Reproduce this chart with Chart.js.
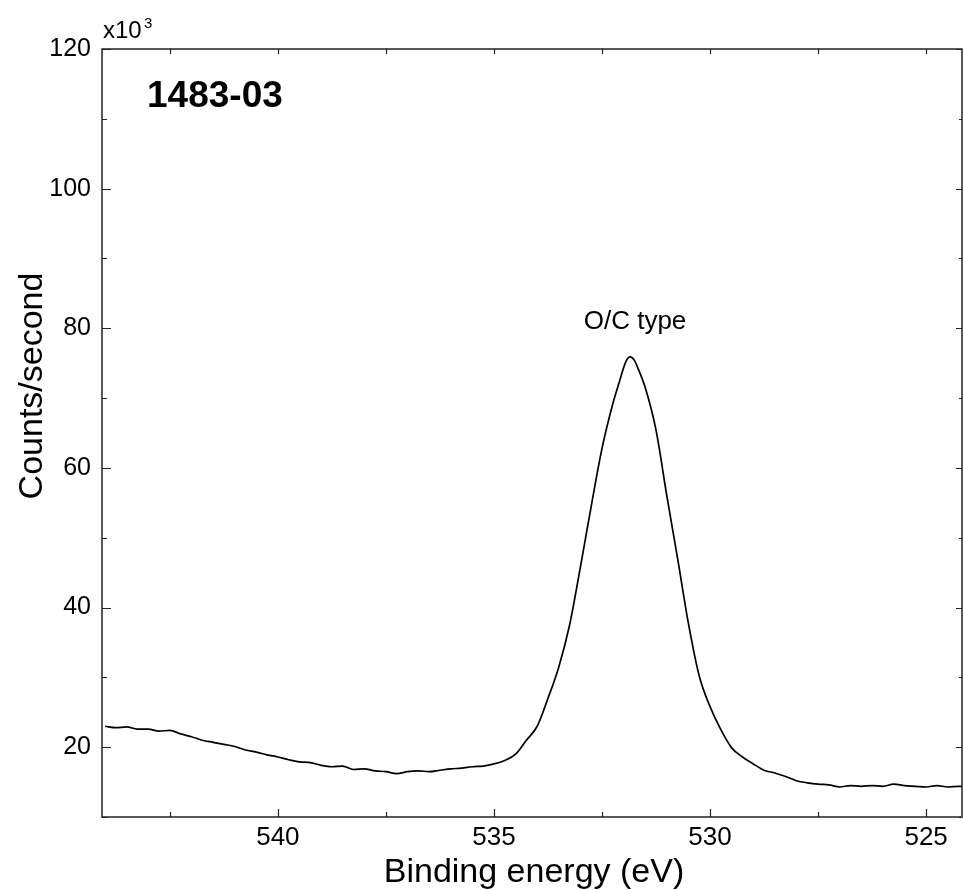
<!DOCTYPE html>
<html>
<head>
<meta charset="utf-8">
<title>1483-03 O 1s</title>
<script src="https://cdn.jsdelivr.net/npm/chart.js@4.4.1/dist/chart.umd.min.js"></script>
<style>
  body { margin: 0; background: #fff; }
  #wrap { width: 963px; height: 890px; }
</style>
</head>
<body>
<div id="wrap"><canvas id="xpsChart"></canvas></div>
<script>
// Binding energy (eV), high to low
const bindingEnergy = [
  544.0, 543.75, 543.5, 543.25, 543.0, 542.75, 542.5, 542.25, 542.0, 541.75,
  541.5, 541.25, 541.0, 540.75, 540.5, 540.25, 540.0, 539.75, 539.5, 539.25,
  539.0, 538.75, 538.5, 538.25, 538.0, 537.75, 537.5, 537.25, 537.0, 536.75,
  536.5, 536.25, 536.0, 535.75, 535.5, 535.25, 535.0, 534.75, 534.5, 534.25,
  534.0, 533.75, 533.5, 533.25, 533.0, 532.75, 532.5, 532.25, 532.1, 531.95,
  531.85, 531.75, 531.65, 531.5, 531.25, 531.0, 530.75, 530.5, 530.25, 530.0,
  529.75, 529.5, 529.25, 529.0, 528.75, 528.5, 528.25, 528.0, 527.75, 527.5,
  527.25, 527.0, 526.75, 526.5, 526.25, 526.0, 525.75, 525.5, 525.25, 525.0,
  524.75, 524.5, 524.25, 524.1
];

// Counts/second in thousands (x10^3)
const countsK = [
  23.0, 22.8, 22.9, 22.6, 22.6, 22.3, 22.4, 21.9, 21.5, 21.0,
  20.7, 20.4, 20.1, 19.6, 19.3, 18.9, 18.6, 18.2, 17.9, 17.8,
  17.4, 17.2, 17.3, 16.8, 16.9, 16.6, 16.5, 16.2, 16.5, 16.6,
  16.5, 16.7, 16.9, 17.0, 17.2, 17.3, 17.6, 18.1, 19.0, 21.0,
  23.0, 27.0, 31.5, 37.5, 45.8, 54.5, 62.8, 69.2, 72.3, 75.2,
  75.9, 75.4, 74.0, 71.5, 65.4, 56.0, 47.0, 37.7, 30.2, 25.8,
  22.5, 19.9, 18.6, 17.6, 16.7, 16.3, 15.8, 15.2, 14.9, 14.7,
  14.6, 14.3, 14.5, 14.4, 14.5, 14.4, 14.7, 14.5, 14.4, 14.3,
  14.5, 14.3, 14.4, 14.4
];

const xTickLabels = ['525', '530', '535', '540'];
const yTickLabels = ['20', '40', '60', '80', '100', '120'];

const FONT = '"Liberation Sans", Arial, sans-serif';

// frame, inward ticks and text annotations
const xpsDecor = {
  id: 'xpsDecor',
  afterDraw(chart) {
    const ctx = chart.ctx;
    const area = chart.chartArea;
    const xs = chart.scales.x;
    const ys = chart.scales.y;
    ctx.save();
    ctx.strokeStyle = '#222';
    ctx.lineWidth = 1.5;
    ctx.strokeRect(area.left, area.top, area.right - area.left, area.bottom - area.top);

    ctx.lineWidth = 1.2;
    ctx.beginPath();
    for (let v = Math.ceil(xs.min / 2.5) * 2.5; v <= xs.max; v += 2.5) {
      const px = Math.round(xs.getPixelForValue(v)) + 0.5;
      const major = v % 5 === 0;
      ctx.moveTo(px, area.bottom);
      ctx.lineTo(px, area.bottom - (major ? 8 : 5));
      ctx.moveTo(px, area.top);
      ctx.lineTo(px, area.top + 5);
    }
    for (let v = Math.ceil(ys.min / 10) * 10; v <= ys.max; v += 10) {
      const py = Math.round(ys.getPixelForValue(v)) + 0.5;
      const major = v % 20 === 0;
      ctx.moveTo(area.left, py);
      ctx.lineTo(area.left + (major ? 9 : 5), py);
      ctx.moveTo(area.right, py);
      ctx.lineTo(area.right - (major ? 6 : 3), py);
    }
    ctx.stroke();

    ctx.fillStyle = '#000';
    ctx.textBaseline = 'alphabetic';

    ctx.textAlign = 'center';
    ctx.font = '34px ' + FONT;
    ctx.fillText('Binding energy (eV)', 534, 882);

    ctx.save();
    ctx.translate(42, 386);
    ctx.rotate(-Math.PI / 2);
    ctx.fillText('Counts/second', 0, 0);
    ctx.restore();

    ctx.textAlign = 'left';
    ctx.font = '24px ' + FONT;
    ctx.fillText('x10', 103, 38);
    ctx.font = '15px ' + FONT;
    ctx.fillText('3', 144, 28);

    ctx.font = 'bold 37px ' + FONT;
    ctx.fillText('1483-03', 147, 107);

    ctx.textAlign = 'center';
    ctx.font = '26px ' + FONT;
    ctx.fillText('O/C type', 635, 329);
    ctx.restore();
  }
};

new Chart(document.getElementById('xpsChart'), {
  type: 'line',
  data: {
    datasets: [{
      label: '1483-03',
      data: bindingEnergy.map((e, i) => ({ x: e, y: countsK[i] })),
      borderColor: '#000',
      borderWidth: 1.7,
      pointRadius: 0,
      fill: false,
      cubicInterpolationMode: 'monotone'
    }]
  },
  options: {
    responsive: true,
    maintainAspectRatio: false,
    animation: false,
    layout: { padding: { top: 49, right: 1, left: 0, bottom: 0 } },
    plugins: {
      legend: { display: false },
      tooltip: { enabled: false }
    },
    scales: {
      x: {
        type: 'linear',
        reverse: true,
        min: 524.17,
        max: 544.07,
        grid: { display: false, drawTicks: false },
        border: { display: false },
        ticks: {
          stepSize: 5,
          includeBounds: false,
          padding: 5,
          color: '#000',
          font: { family: FONT, size: 26 },
          callback: (v) => xTickLabels.includes(String(v)) ? String(v) : ''
        },
        afterFit: (scale) => { scale.height = 73; }
      },
      y: {
        min: 10,
        max: 120,
        grid: { display: false, drawTicks: false },
        border: { display: false },
        ticks: {
          stepSize: 20,
          includeBounds: false,
          padding: 11,
          color: '#000',
          font: { family: FONT, size: 25 },
          callback: (v) => yTickLabels.includes(String(v)) ? String(v) : ''
        },
        afterFit: (scale) => { scale.width = 102; }
      }
    }
  },
  plugins: [xpsDecor]
});
</script>
</body>
</html>
